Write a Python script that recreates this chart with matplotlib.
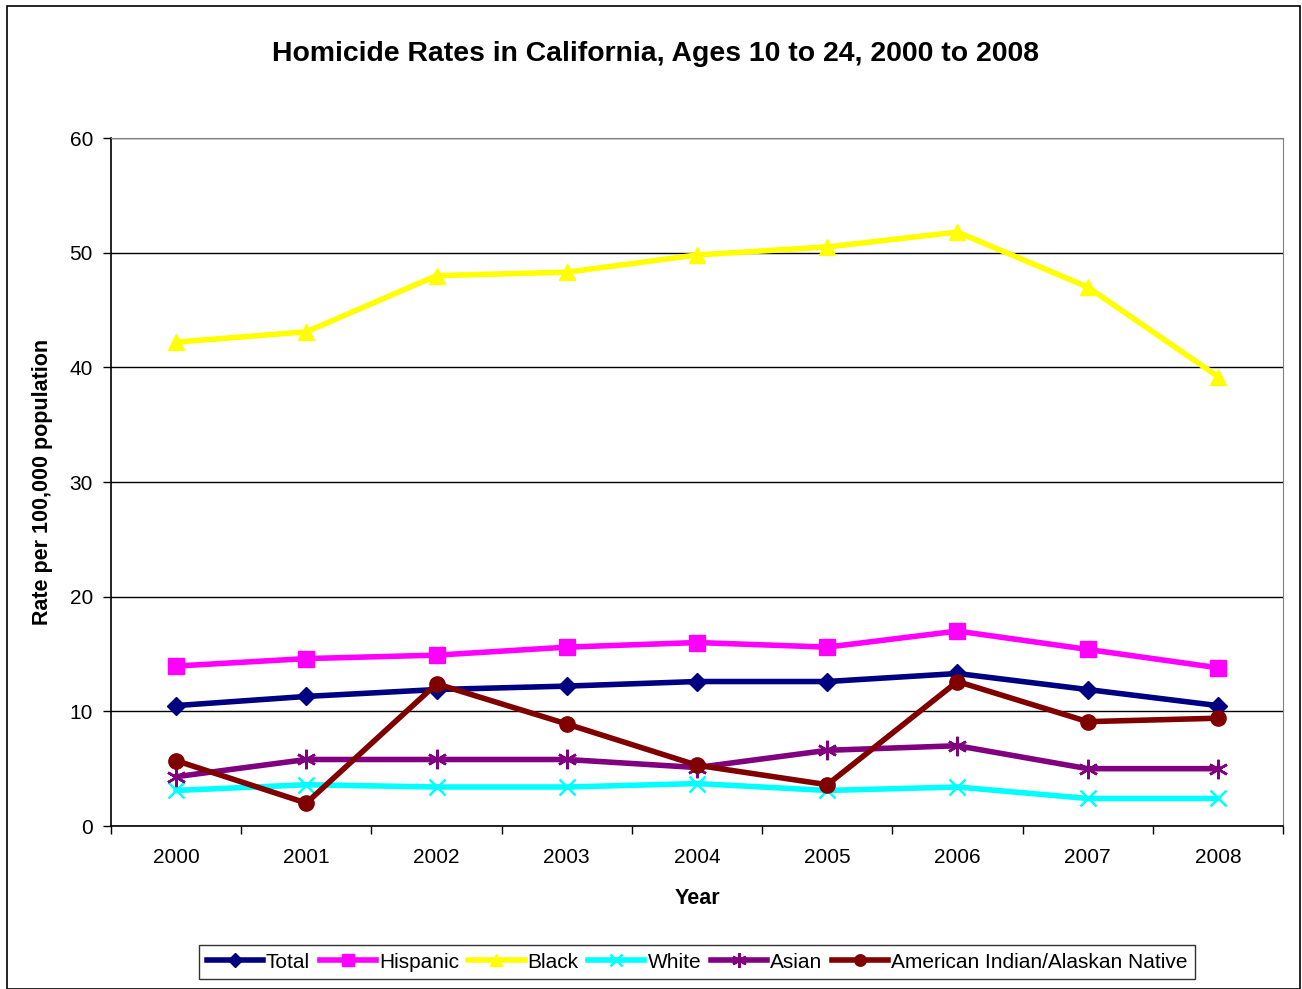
import matplotlib
matplotlib.use("Agg")
import matplotlib.pyplot as plt
from matplotlib.patches import Rectangle

years = ["2000", "2001", "2002", "2003", "2004", "2005", "2006", "2007", "2008"]
total = [10.5, 11.3, 11.9, 12.2, 12.6, 12.6, 13.3, 11.9, 10.5]
hispanic = [13.95, 14.6, 14.9, 15.6, 16.0, 15.6, 17.0, 15.4, 13.8]
black = [42.2, 43.1, 48.0, 48.3, 49.8, 50.5, 51.8, 47.0, 39.2]
white = [3.1, 3.6, 3.4, 3.4, 3.7, 3.1, 3.4, 2.4, 2.4]
asian = [4.3, 5.8, 5.8, 5.8, 5.1, 6.6, 7.0, 5.0, 5.0]
aian = [5.7, 2.0, 12.4, 8.9, 5.3, 3.6, 12.6, 9.1, 9.4]

plt.rcParams['font.family'] = ['Liberation Sans', 'DejaVu Sans']

fig = plt.figure(figsize=(13.02, 9.89), dpi=100)
fig.patches.append(Rectangle((7/1302, 0), (1300-7)/1302, 1 - 6/989, transform=fig.transFigure,
                             fill=False, edgecolor='black', linewidth=1.2))
ax = fig.add_axes([111/1302, 1 - 826/989, (1283-111)/1302, (826-138)/989])

x = list(range(len(years)))
series = [
    ("Total", total, "#000080", "D", 9),
    ("Hispanic", hispanic, "#FF00FF", "s", 11),
    ("Black", black, "#FFFF00", "^", 12),
    ("White", white, "#00FFFF", "x", 12),
    ("Asian", asian, "#800080", (6, 2, 0), 14),
    ("American Indian/Alaskan Native", aian, "#800000", "o", 11),
]
for name, vals, col, mk, ms in series:
    mew = 1.8 if (mk == "x" or isinstance(mk, tuple)) else 1.0
    ax.plot(x, vals, color=col, linewidth=4, marker=mk, markersize=ms,
            markerfacecolor=col, markeredgecolor=col, markeredgewidth=mew, label=name)

ax.set_xlim(-0.5, len(years) - 0.5)
ax.set_ylim(0, 60)
ax.set_yticks(range(0, 61, 10))
ax.yaxis.grid(True, color='black', linewidth=1)
ax.set_axisbelow(True)
ax.set_xticks(x)
ax.set_xticklabels(years, fontsize=15)
ax.set_xticks([i - 0.5 for i in range(len(years) + 1)], minor=True)
ax.tick_params(axis='x', which='major', length=0, pad=16)
ax.tick_params(axis='x', which='minor', length=6, width=1)
ax.tick_params(axis='y', labelsize=15, length=6, width=1, pad=7)
for s in ['top', 'right']:
    ax.spines[s].set_color('#808080')
for s in ['left', 'bottom']:
    ax.spines[s].set_color('black')
    ax.spines[s].set_linewidth(1.2)

ax.set_xlabel("Year", fontsize=15.5, fontweight='bold', labelpad=15)
ax.set_ylabel("Rate per 100,000 population", fontsize=15.5, fontweight='bold', labelpad=12)
fig.text(656/1302, 1 - 54/989, "Homicide Rates in California, Ages 10 to 24, 2000 to 2008",
         fontsize=20.4, fontweight='bold', ha='center', va='center')

leg = fig.legend(loc='center', bbox_to_anchor=(697/1302, 1 - 962/989), ncol=6,
                 fontsize=15, frameon=True, fancybox=False, edgecolor='black',
                 handlelength=2.7, handletextpad=0.15, columnspacing=0.45,
                 borderpad=0.35, markerscale=0.75)
leg.get_frame().set_linewidth(1)

fig.savefig("out.png", dpi=100)
